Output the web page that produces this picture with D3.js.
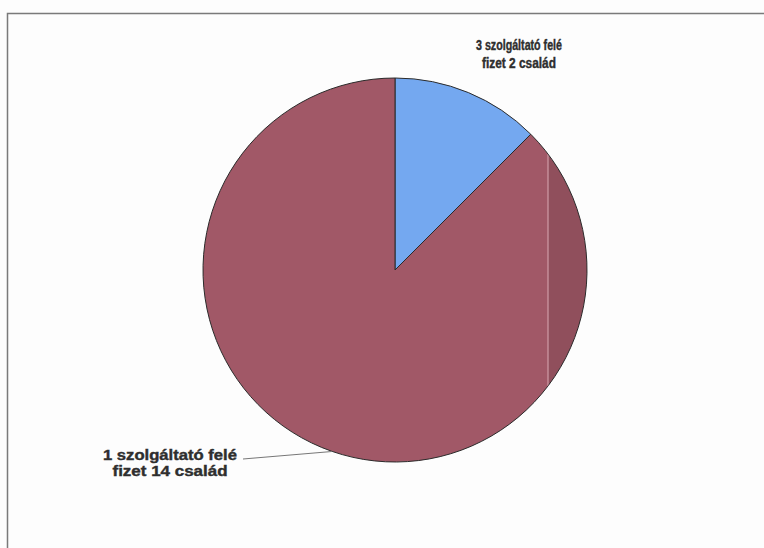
<!DOCTYPE html>
<html>
<head>
<meta charset="utf-8">
<script src="https://cdn.jsdelivr.net/npm/d3@7"></script>
<style>
  body { margin: 0; background: #fdfdfd; }
  svg { display: block; }
</style>
</head>
<body>
<div id="chart"></div>
<script>
// families by how many providers they pay
var categories = ["3 szolgáltató", "1 szolgáltató"];
var families = [2, 14];
var labelLines = [
	["3 szolgáltató felé", "fizet 2 család"],
	["1 szolgáltató felé", "fizet 14 család"]
];
var colors = ["#74a8f0", "#a15867"];

var width = 764, height = 548;
var cx = 395, cy = 270, radius = 192;

var svg = d3.select("#chart")
	.append("svg")
	.attr("width", width)
	.attr("height", height);

// chart frame (only top and left edges survive in the scan)
svg.append("path")
	.attr("d", "M7.5,548 V13.5 H764")
	.style("fill", "none")
	.style("stroke", "#7a7a7a")
	.style("stroke-width", "1.5px");

var pie = d3.pie().sort(null).value(function(d) { return d; });
var arcs = pie(families);
var arc = d3.arc().innerRadius(0).outerRadius(radius);

var g = svg.append("g").attr("transform", "translate(" + cx + "," + cy + ")");

g.selectAll("path.slice")
	.data(arcs)
	.enter()
	.append("path")
	.attr("class", "slice")
	.attr("d", arc)
	.style("fill", function(d, i) { return colors[i]; })
	.style("stroke", "#2b2b2b")
	.style("stroke-width", "1px");

// darker scan band on the right side of the pie
svg.append("clipPath").attr("id", "pieclip")
	.append("circle").attr("cx", cx).attr("cy", cy).attr("r", radius - 0.5);
svg.append("rect")
	.attr("clip-path", "url(#pieclip)")
	.attr("x", 548).attr("y", cy - radius)
	.attr("width", 60).attr("height", radius * 2)
	.style("fill", "#000").style("opacity", 0.1);
svg.append("line")
	.attr("clip-path", "url(#pieclip)")
	.attr("x1", 548).attr("x2", 548)
	.attr("y1", cy - radius).attr("y2", cy + radius)
	.style("stroke", "#d9a9b3").style("stroke-width", "1px");

// labels: where each label block sits, and how wide its lines are in the scan
var labelPos = [
	{ x: 519, y: 50, size: 14, gap: 18, lens: [86, 74] },
	{ x: 170, y: 460, size: 14.5, gap: 16, lens: [134, 115] }
];

labelLines.forEach(function(lines, i) {
	var p = labelPos[i];
	var t = svg.append("text")
		.attr("x", p.x)
		.attr("y", p.y)
		.attr("text-anchor", "middle")
		.style("font-family", "'Liberation Sans', Arial, sans-serif")
		.style("font-weight", "bold")
		.style("font-size", p.size + "px")
		.style("fill", "#2e2e2e")
		.style("stroke", "#2e2e2e")
		.style("stroke-width", "0.4px");
	lines.forEach(function(s, j) {
		t.append("tspan")
			.attr("x", p.x)
			.attr("dy", j === 0 ? 0 : p.gap)
			.attr("textLength", p.lens[j])
			.attr("lengthAdjust", "spacingAndGlyphs")
			.text(s);
	});
});

// leader line for the big slice
var mid = (arcs[1].startAngle + arcs[1].endAngle) / 2 - 0.06;
var ex = cx + radius * Math.sin(mid);
var ey = cy - radius * Math.cos(mid);
svg.append("path")
	.attr("d", "M243,459 L" + ex + "," + ey)
	.style("fill", "none")
	.style("stroke", "#777")
	.style("stroke-width", "1px");
</script>
</body>
</html>
